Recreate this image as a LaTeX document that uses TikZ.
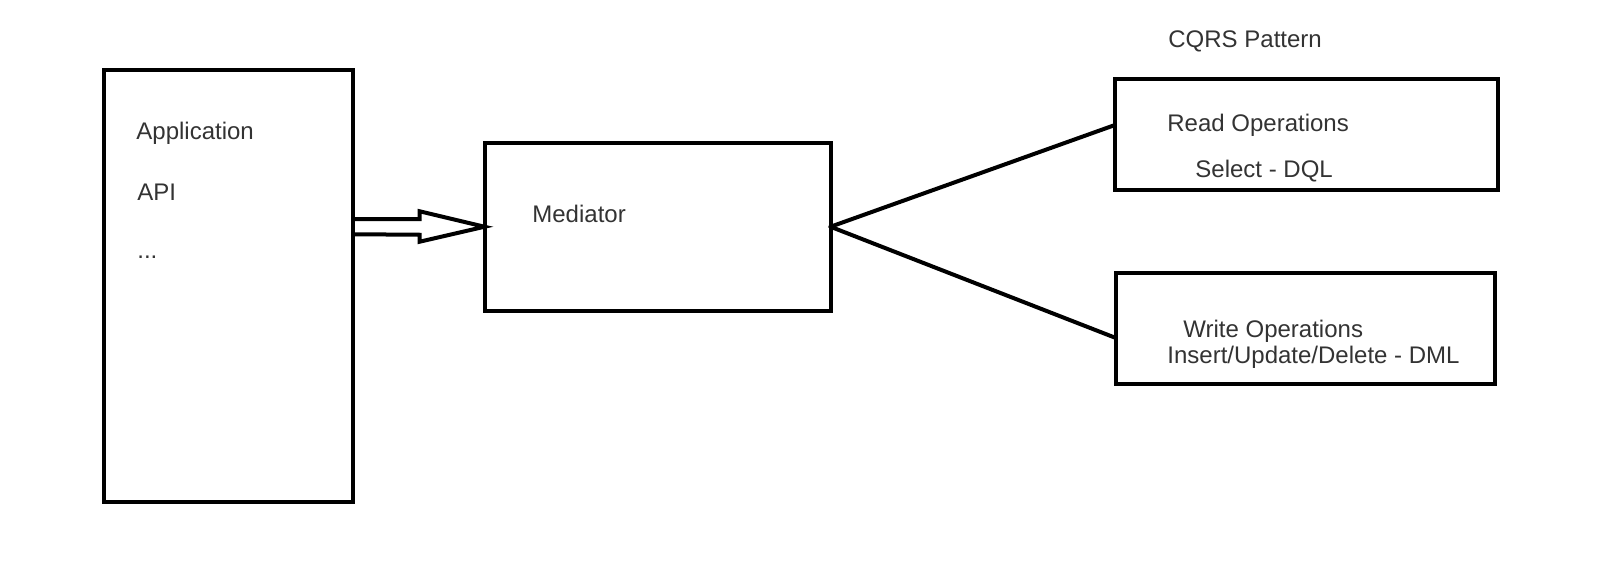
\documentclass[tikz,border=0pt]{standalone}
\usepackage{fontspec}
\setmainfont{Liberation Sans}
\usepackage{xcolor}

\tikzset{
  box/.style={draw, line width=2pt, rectangle, inner sep=0pt, outer sep=0pt},
  label text/.style={anchor=base west, inner sep=0pt, text=black!80, font=\fontsize{12}{14}\selectfont},
  link/.style={line width=2pt, line cap=round}
}

\begin{document}
\begin{tikzpicture}[x=0.5pt, y=-0.5pt]
\useasboundingbox (0,0) rectangle (1620,572);
%% boxes
\node[box, minimum width=124.25pt, minimum height=215.5pt] (app) at (228.25,286) {};
\node[box, minimum width=173pt, minimum height=83.75pt] (mediator) at (657.5,226.75) {};
\node[box, minimum width=191.5pt, minimum height=55.5pt] (read) at (1306.5,135) {};
\node[box, minimum width=189.5pt, minimum height=55.75pt] (write) at (1305.5,328.25) {};
%% texts
\node[label text] (application) at (136,140) {Application};
\node[label text] (api) at (137,200) {API};
\node[label text] (dots) at (137,258) {...};
\node[label text] (mediatortext) at (532,222) {Mediator};
\node[label text] (cqrs) at (1168,48) {CQRS Pattern};
\node[label text] (readops) at (1167,132) {Read Operations};
\node[label text] (select) at (1195,177) {Select - DQL};
\node[label text] (writeops) at (1183,337) {Write Operations};
\node[label text] (insert) at (1167,363) {Insert/Update/Delete - DML};
%% hollow arrow
\coordinate (tail) at (app.east |- mediator.west);
\draw[line width=2pt, line join=miter] ([yshift=3.75pt]tail) -- ++(67,0) -- ++(0,-8) -- (mediator.west)
  -- ([xshift=33.5pt, yshift=-7.5pt]tail) -- ++(0,-7) -- ([yshift=-3.75pt]tail);
%% links
\draw[link] (mediator.east) -- ([yshift=5pt]read.west);
\draw[link] (mediator.east) -- ([yshift=-4.9pt]write.west);
\end{tikzpicture}
\end{document}
